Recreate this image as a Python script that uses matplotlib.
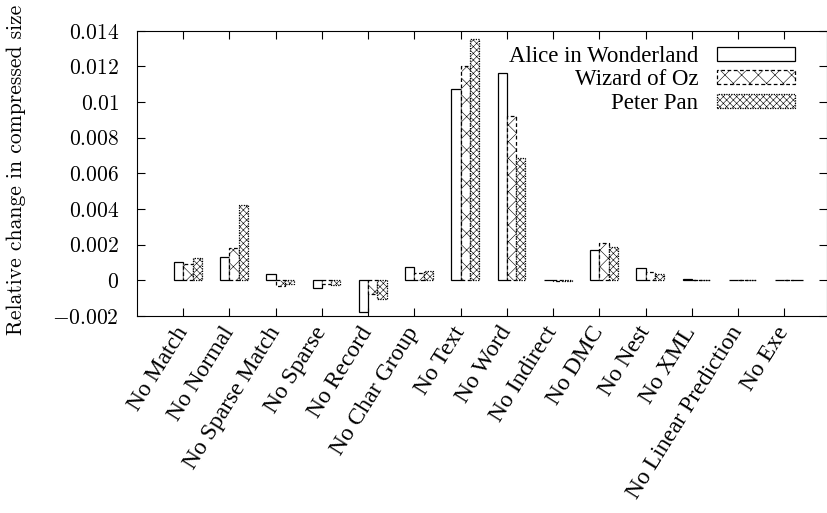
import numpy as np
import matplotlib
matplotlib.use("Agg")
from matplotlib import pyplot as plt

plt.rcParams['font.family'] = ['cmr10', 'DejaVu Serif']
plt.rcParams['mathtext.fontset'] = 'cm'
plt.rcParams['axes.formatter.use_mathtext'] = True
plt.rcParams['hatch.linewidth'] = 0.4

categories = ["No Match", "No Normal", "No Sparse Match", "No Sparse", "No Record",
              "No Char Group", "No Text", "No Word", "No Indirect", "No DMC",
              "No Nest", "No XML", "No Linear Prediction", "No Exe"]
series_names = ["Alice in Wonderland", "Wizard of Oz", "Peter Pan"]
alice = [0.00104, 0.00132, 0.00036, -0.00041, -0.00178, 0.00073, 0.01074, 0.01163,
         0.00003, 0.00173, 0.00070, 0.00010, 0.00003, 0.00002]
oz = [0.00090, 0.00183, -0.00034, -0.00019, -0.00078, 0.00042, 0.01200, 0.00920,
      -0.00005, 0.00207, 0.00045, 0.00003, 0.00003, 0.00002]
peterpan = [0.00124, 0.00420, -0.00020, -0.00025, -0.00103, 0.00051, 0.01352, 0.00686,
            -0.00005, 0.00186, 0.00038, 0.00003, 0.00003, 0.00002]
yticks = [-0.002, 0, 0.002, 0.004, 0.006, 0.008, 0.01, 0.012, 0.014]

fig = plt.figure(figsize=(8.28, 5.13), dpi=100)
ax = fig.add_axes([0.1655, 0.384, 0.833, 0.556])

x = np.arange(len(categories))
w = 0.2
styles = [dict(hatch=None, linestyle='-'),
          dict(hatch='xx', linestyle=(0, (3, 2))),
          dict(hatch='xxxxx', linestyle=(0, (1, 1)))]
for k, (name, vals) in enumerate(zip(series_names, [alice, oz, peterpan])):
    ax.bar(x - w + k * w, vals, width=w, align='edge', facecolor='white',
           edgecolor='black', linewidth=0.9, label=name, **styles[k])

ax.set_xlim(-1.0, 13.92)
ax.set_ylim(-0.002, 0.014)
ax.set_xticks(x)
ax.set_xticklabels(categories, rotation=58, ha='right', va='center',
                   rotation_mode='anchor', family='Liberation Serif', fontsize=17)
ax.set_yticks(yticks)
ax.set_yticklabels([f'${v:g}$' for v in yticks], fontsize=15.5)
ax.tick_params(direction='in', top=True, right=True, length=6, width=0.8)
ax.tick_params(axis='y', pad=13)
ax.tick_params(axis='x', pad=9)
ax.set_ylabel("Relative change in compressed size", fontsize=15.5)
ax.yaxis.set_label_coords(-0.161, 0.513)

leg = ax.legend(loc='upper right', frameon=False, markerfirst=False,
                prop={'family': 'Liberation Serif', 'size': 16.5},
                handlelength=3.4, handleheight=0.57, labelspacing=0.12,
                handletextpad=0.8, borderaxespad=0.25, bbox_to_anchor=(0.975, 1.0))

fig.savefig("out.png", dpi=100)
